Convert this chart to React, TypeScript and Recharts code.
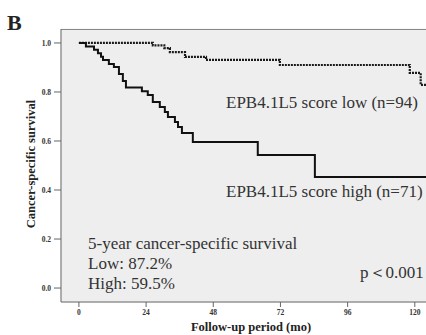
import { ComposedChart, Line, XAxis, YAxis, CartesianGrid } from "recharts";

const lowTime = [0, 26.4, 30.5, 32.5, 37.9, 45.4, 71.8, 118.2, 122.1, 124];
const lowSurv = [1.0, 0.99, 0.979, 0.963, 0.943, 0.931, 0.91, 0.878, 0.829, 0.829];

const highTime = [0, 2.5, 5.4, 6.8, 7.9, 8.6, 10.7, 12.5, 14.3, 15.7, 16.8, 22.5, 24.6, 26.4, 28.9, 30.7, 31.8, 34.3, 35.4, 36.8, 40.7, 63.9, 84.3, 124];
const highSurv = [1.0, 0.986, 0.972, 0.958, 0.944, 0.93, 0.914, 0.902, 0.873, 0.845, 0.818, 0.803, 0.788, 0.759, 0.739, 0.718, 0.698, 0.678, 0.657, 0.633, 0.596, 0.543, 0.453, 0.453];

const xTicks = [0, 24, 48, 72, 96, 120];
const yTicks = [0, 0.2, 0.4, 0.6, 0.8, 1.0];

const X_DOMAIN: [number, number] = [-6.4, 124];
const Y_DOMAIN: [number, number] = [-0.057, 1.057];

const lowData = lowTime.map((t, i) => ({ t, s: lowSurv[i] }));
const highData = highTime.map((t, i) => ({ t, s: highSurv[i] }));
// top edge of the plot frame
const frameTop = X_DOMAIN.map((t) => ({ t, s: 1.055 }));

const PANEL = "#eeeeee";
const SERIF = '"Liberation Serif", "Times New Roman", serif';
const tickStyle = { fontSize: 7.5, fontWeight: 700, fill: "#333", fontFamily: SERIF };

// html text placed by baseline (line-height = font size, Liberation Serif)
function Txt({ x, y, size, bold, children, center }: { x: number; y: number; size: number; bold?: boolean; children: string; center?: boolean }) {
  return (
    <div
      style={{
        position: "absolute",
        left: x,
        top: y - size * 0.8375,
        fontSize: size,
        lineHeight: `${size}px`,
        fontFamily: SERIF,
        fontWeight: bold ? 700 : 400,
        color: bold ? "#222" : "#333",
        whiteSpace: "nowrap",
        transform: center ? "translateX(-50%)" : undefined,
      }}
    >
      {children}
    </div>
  );
}

export default function App() {
  return (
    <div style={{ position: "absolute", left: 0, top: 0, width: 426, height: 335, background: "#fff", overflow: "hidden" }}>
      <ComposedChart width={426} height={335} margin={{ top: 29, right: 0, left: 0, bottom: 0 }}>
        <CartesianGrid fill={PANEL} fillOpacity={1} stroke={PANEL} />
        <XAxis
          type="number"
          dataKey="t"
          domain={X_DOMAIN}
          ticks={xTicks}
          allowDataOverflow
          height={33}
          tick={tickStyle}
          tickSize={5}
          tickMargin={3}
          stroke="#666"
        />
        <YAxis
          type="number"
          dataKey="s"
          domain={Y_DOMAIN}
          ticks={yTicks}
          allowDataOverflow
          width={61}
          tick={tickStyle}
          tickSize={7}
          tickMargin={3}
          tickFormatter={(v: number) => v.toFixed(1)}
          stroke="#666"
        />
        <Line
          data={frameTop}
          dataKey="s"
          type="linear"
          stroke="#888"
          strokeWidth={1}
          dot={false}
          activeDot={false}
          isAnimationActive={false}
        />
        <Line
          data={lowData}
          dataKey="s"
          type="stepAfter"
          stroke="#1a1a1a"
          strokeWidth={2.2}
          strokeDasharray="2 1"
          dot={false}
          isAnimationActive={false}
        />
        <Line
          data={highData}
          dataKey="s"
          type="stepAfter"
          stroke="#111"
          strokeWidth={2}
          dot={false}
          isAnimationActive={false}
        />
      </ComposedChart>
      <Txt x={7} y={30} size={22} bold>B</Txt>
      <div
        style={{
          position: "absolute",
          left: 30.8,
          top: 164,
          fontSize: 12.5,
          lineHeight: "12.5px",
          fontFamily: SERIF,
          fontWeight: 700,
          color: "#222",
          whiteSpace: "nowrap",
          transform: "translate(-50%, -50%) rotate(-90deg)",
        }}
      >
        Cancer-specific survival
      </div>
      <Txt x={251} y={331} size={12.5} bold center>Follow-up period (mo)</Txt>
      <Txt x={226} y={108} size={17}>EPB4.1L5 score low (n=94)</Txt>
      <Txt x={226} y={197} size={17}>EPB4.1L5 score high (n=71)</Txt>
      <Txt x={88} y={249} size={17}>5-year cancer-specific survival</Txt>
      <Txt x={88} y={269} size={17}>Low: 87.2%</Txt>
      <Txt x={88} y={289} size={17}>High: 59.5%</Txt>
      <Txt x={360} y={278} size={17}>p＜0.001</Txt>
    </div>
  );
}
